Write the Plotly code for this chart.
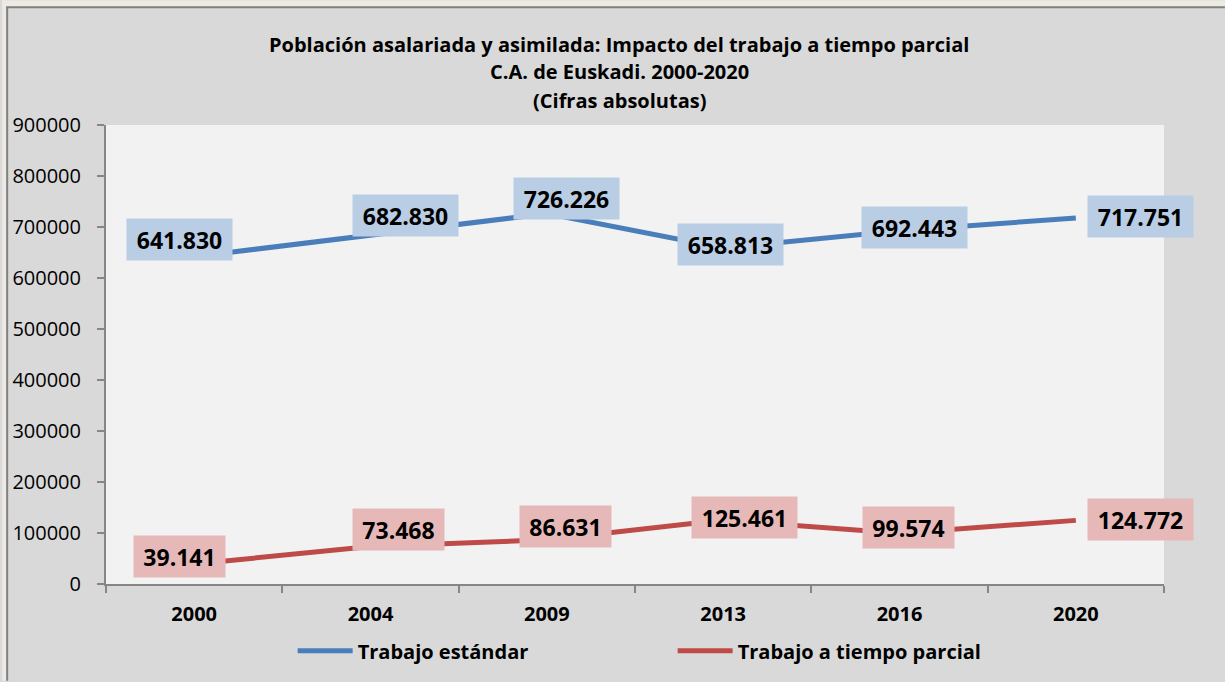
import plotly.graph_objects as go

# ---- data ----
years = ["2000", "2004", "2009", "2013", "2016", "2020"]
estandar = [641830, 682830, 726226, 658813, 692443, 717751]
parcial = [39141, 73468, 86631, 125461, 99574, 124772]
series_names = ["Trabajo estándar", "Trabajo a tiempo parcial"]
title_lines = ["Población asalariada y asimilada: Impacto del trabajo a tiempo parcial",
               "C.A. de Euskadi. 2000-2020",
               "(Cifras absolutas)"]
ytick_vals = [0, 100000, 200000, 300000, 400000, 500000, 600000, 700000, 800000, 900000]

# ---- style ----
BLUE = "#4a7ebb"
RED = "#be4b48"
BLUE_BG = "#b9cde5"
RED_BG = "#e6b9b8"
FONT = "Open Sans"

# label offsets (px) relative to points
blue_off = [(-15, -17), (35, -20), (20, -15), (7, -4), (15, -3), (65, -1)]
red_off = [(-15, -8), (28, -17), (19, -13), (21, -3), (9, -6), (65, -1)]

L, R, T, B = 104, 61, 125, 97
W, H = 1225, 682
PW = W - L - R
PH = H - T - B


def fmt(v):
    return f"{v:,}".replace(",", ".")


fig = go.Figure()
fig.add_trace(go.Scatter(x=years, y=estandar, mode="lines", name=series_names[0],
                         line=dict(color=BLUE, width=5)))
fig.add_trace(go.Scatter(x=years, y=parcial, mode="lines", name=series_names[1],
                         line=dict(color=RED, width=5)))

annotations = []
for vals, offs, bg in [(estandar, blue_off, BLUE_BG), (parcial, red_off, RED_BG)]:
    for i, (v, (dx, dy)) in enumerate(zip(vals, offs)):
        txt = fmt(v)
        annotations.append(dict(
            x=i, y=v, xref="x", yref="y", text=f"<b>{txt}</b>", showarrow=False,
            xshift=dx, yshift=-dy, bgcolor=bg, borderpad=5,
            width=95 if len(txt) == 7 else 81, height=31,
            font=dict(family=FONT, size=23, color="black")))

title_y_px = [44, 71, 100]
for line, py in zip(title_lines, title_y_px):
    annotations.append(dict(
        x=(618 - L) / PW, y=1 + (T - py) / PH, xref="paper", yref="paper",
        text=f"<b>{line}</b>", showarrow=False, xanchor="center", yanchor="middle",
        font=dict(family=FONT, size=20, color="black")))


def px_x(p):
    return (p - L) / PW


def px_y(p):
    return 1 + (T - p) / PH


shapes = [
    # beige page strips + chart frame
    dict(type="rect", xref="paper", yref="paper",
         x0=px_x(0), x1=px_x(W), y0=px_y(0), y1=px_y(6),
         fillcolor="#ede9e3", line=dict(width=0), layer="below"),
    dict(type="rect", xref="paper", yref="paper",
         x0=px_x(0), x1=px_x(4), y0=px_y(0), y1=px_y(H),
         fillcolor="#ede9e3", line=dict(width=0), layer="below"),
    dict(type="line", xref="paper", yref="paper",
         x0=px_x(4), x1=px_x(W), y0=px_y(7), y1=px_y(7),
         line=dict(color="#808080", width=2), layer="below"),
    dict(type="line", xref="paper", yref="paper",
         x0=px_x(5), x1=px_x(5), y0=px_y(7), y1=px_y(H),
         line=dict(color="#808080", width=2), layer="below"),
]

fig.update_layout(
    width=W, height=H,
    margin=dict(l=L, r=R, t=T, b=B),
    paper_bgcolor="#d9d9d9", plot_bgcolor="#f2f2f2",
    font=dict(family=FONT, color="black"),
    showlegend=True,
    legend=dict(orientation="h", x=px_x(291), xanchor="left", y=px_y(652),
                yanchor="middle", entrywidth=310, entrywidthmode="pixels",
                itemwidth=55,
                font=dict(family=FONT, size=20, color="black", weight="bold"),
                bgcolor="rgba(0,0,0,0)"),
    annotations=annotations,
    shapes=shapes,
)
fig.update_xaxes(type="category", range=[-0.5, 5.5], showgrid=False, zeroline=False,
                 showline=True, linecolor="#868686", linewidth=2,
                 ticks="outside", tickson="boundaries", ticklen=7, tickcolor="#868686",
                 tickwidth=2, tickfont=dict(family=FONT, size=20, color="black", weight="bold"),
                 ticklabelstandoff=11)
fig.update_yaxes(range=[0, 900000], tickvals=ytick_vals, tickformat="d", showgrid=False,
                 zeroline=False, showline=True, linecolor="#868686", linewidth=2,
                 ticks="outside", ticklen=7, tickcolor="#868686", tickwidth=2,
                 tickfont=dict(family=FONT, size=20, color="black"), ticklabelstandoff=12)

fig.write_html("out.html", config={"displayModeBar": False},
               post_script="document.body.style.margin='0';document.body.style.overflow='hidden';")
